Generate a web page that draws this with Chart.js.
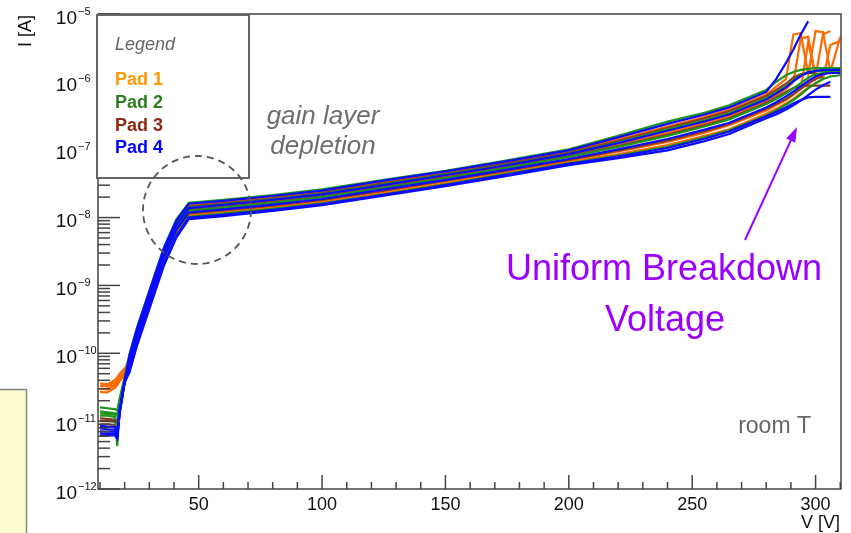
<!DOCTYPE html>
<html>
<head>
<meta charset="utf-8">
<title>IV curves</title>
<script src="https://cdn.jsdelivr.net/npm/chart.js@4.4.0/dist/chart.umd.min.js"></script>
<style>
  html, body { margin: 0; padding: 0; background: #fff; }
  #wrap { position: relative; width: 851px; height: 533px; }
</style>
</head>
<body>
<div id="wrap"><canvas id="ivChart"></canvas></div>
<script>
// bias voltage grid (V), shared by every curve
const voltages = [10, 13, 16, 17, 18, 20, 22, 25, 30, 36, 41, 46, 60,
                  80, 100, 125, 150, 175, 200, 220, 240, 255, 265, 280,
                  284, 288, 291, 294, 297, 300, 303, 306, 310];

// leakage current (A) per curve; null = curve already stopped
const pad1Currents = [ // orange
  [3.3e-11, 3.25e-11, 3.7e-11, 4.0e-11, 4.6e-11, 5.6e-11, 9.0e-11, 2.2e-10, 7.7e-10, 3.4e-9, 8.7e-9, 1.5e-8, 1.68e-8,
   1.98e-8, 2.4e-8, 3.3e-8, 4.6e-8, 6.5e-8, 9.4e-8, 1.42e-7, 2.2e-7, 3.06e-7, 3.9e-7, 6.5e-7,
   8.5e-7, 1.1e-6, 5.0e-6, 5.2e-6, 1.3e-6, 5.6e-6, 5.4e-6, 1.4e-6, 4.6e-6],
  [3.0e-11, 2.95e-11, 3.4e-11, 3.7e-11, 4.2e-11, 5.2e-11, 7.8e-11, 1.9e-10, 6.7e-10, 3.0e-9, 7.5e-9, 1.33e-8, 1.48e-8,
   1.75e-8, 2.1e-8, 2.9e-8, 4.0e-8, 5.7e-8, 8.3e-8, 1.19e-7, 1.78e-7, 2.45e-7, 3.1e-7, 5.2e-7,
   6.3e-7, 7.8e-7, 1.0e-6, 4.4e-6, 4.6e-6, 1.2e-6, 5.0e-6, 5.6e-6, null],
  [2.7e-11, 2.65e-11, 3.1e-11, 3.4e-11, 3.9e-11, 4.8e-11, 6.4e-11, 1.57e-10, 5.5e-10, 2.45e-9, 6.2e-9, 1.12e-8, 1.25e-8,
   1.47e-8, 1.78e-8, 2.45e-8, 3.4e-8, 4.8e-8, 6.9e-8, 9.4e-8, 1.3e-7, 1.78e-7, 2.3e-7, 3.8e-7,
   4.5e-7, 5.4e-7, 6.5e-7, 8.0e-7, 3.8e-6, 1.2e-6, 1.3e-6, null, null],
  [3.6e-11, 3.5e-11, 4.0e-11, 4.4e-11, 5.0e-11, 6.0e-11, 7.0e-11, 1.48e-10, 5.2e-10, 2.3e-9, 5.8e-9, 1.06e-8, 1.18e-8,
   1.39e-8, 1.68e-8, 2.3e-8, 3.2e-8, 4.5e-8, 6.6e-8, 8.6e-8, 1.17e-7, 1.6e-7, 2.0e-7, 3.4e-7,
   4.0e-7, 4.8e-7, 5.6e-7, 6.8e-7, 8.2e-7, 9.6e-7, 1.1e-6, 3.5e-6, 4.0e-6]
];
const pad2Currents = [ // green
  [1.6e-11, 1.55e-11, 1.5e-11, 1.45e-11, 2.2e-11, 4.4e-11, 9.8e-11, 2.4e-10, 8.3e-10, 3.7e-9, 9.4e-9, 1.65e-8, 1.82e-8,
   2.15e-8, 2.6e-8, 3.6e-8, 4.9e-8, 7.0e-8, 1.01e-7, 1.6e-7, 2.6e-7, 3.5e-7, 4.5e-7, 7.6e-7,
   1.0e-6, 1.25e-6, 1.4e-6, 1.5e-6, 1.55e-6, 1.6e-6, 1.6e-6, 1.6e-6, 1.6e-6],
  [1.4e-11, 1.35e-11, 1.3e-11, 1.26e-11, 2.0e-11, 4.2e-11, 8.4e-11, 2.03e-10, 7.1e-10, 3.2e-9, 8.0e-9, 1.4e-8, 1.57e-8,
   1.85e-8, 2.24e-8, 3.1e-8, 4.3e-8, 6.0e-8, 8.7e-8, 1.29e-7, 2.0e-7, 2.7e-7, 3.45e-7, 5.8e-7,
   7.0e-7, 8.6e-7, 1.05e-6, 1.25e-6, 1.4e-6, 1.45e-6, 1.45e-6, 1.45e-6, 1.45e-6],
  [1.2e-11, 1.2e-11, 1.15e-11, 4.3e-12, 1.6e-11, 4.0e-11, 7.4e-11, 1.8e-10, 6.3e-10, 2.8e-9, 7.1e-9, 1.26e-8, 1.4e-8,
   1.65e-8, 2.0e-8, 2.75e-8, 3.8e-8, 5.4e-8, 7.8e-8, 1.1e-7, 1.6e-7, 2.2e-7, 2.8e-7, 4.7e-7,
   5.6e-7, 6.8e-7, 8.0e-7, 9.6e-7, 1.15e-6, 1.3e-6, 1.35e-6, 1.35e-6, 1.35e-6],
  [1.3e-11, 1.28e-11, 1.25e-11, 1.2e-11, 1.8e-11, 4.1e-11, 5.8e-11, 1.4e-10, 4.9e-10, 2.2e-9, 5.5e-9, 1.03e-8, 1.14e-8,
   1.34e-8, 1.62e-8, 2.2e-8, 3.1e-8, 4.4e-8, 6.3e-8, 8.2e-8, 1.1e-7, 1.52e-7, 1.93e-7, 3.2e-7,
   3.8e-7, 4.6e-7, 5.4e-7, 6.5e-7, 8.0e-7, 9.5e-7, 1.1e-6, 1.2e-6, 1.25e-6]
];
const pad3Currents = [ // brown
  [1.1e-11, 1.08e-11, 1.05e-11, 1.0e-11, 1.7e-11, 4.1e-11, 8.7e-11, 2.1e-10, 7.4e-10, 3.3e-9, 8.3e-9, 1.45e-8, 1.62e-8,
   1.91e-8, 2.3e-8, 3.2e-8, 4.4e-8, 6.3e-8, 9.0e-8, 1.35e-7, 2.1e-7, 2.9e-7, 3.7e-7, 6.2e-7,
   7.6e-7, 9.4e-7, 1.15e-6, 1.3e-6, 1.35e-6, 1.35e-6, null, null, null],
  [1.0e-11, 1.0e-11, 9.8e-12, 9.5e-12, 1.6e-11, 4.0e-11, 7.5e-11, 1.84e-10, 6.4e-10, 2.85e-9, 7.2e-9, 1.29e-8, 1.43e-8,
   1.68e-8, 2.05e-8, 2.8e-8, 3.9e-8, 5.5e-8, 8.0e-8, 1.13e-7, 1.67e-7, 2.3e-7, 2.9e-7, 4.9e-7,
   5.9e-7, 7.1e-7, 8.1e-7, 8.7e-7, 8.8e-7, 8.8e-7, 8.8e-7, 8.8e-7, null],
  [9.0e-12, 9.0e-12, 8.8e-12, 8.0e-12, 1.5e-11, 3.9e-11, 6.7e-11, 1.62e-10, 5.7e-10, 2.5e-9, 6.4e-9, 1.15e-8, 1.28e-8,
   1.5e-8, 1.82e-8, 2.5e-8, 3.5e-8, 4.9e-8, 7.1e-8, 9.7e-8, 1.36e-7, 1.87e-7, 2.4e-7, 4.0e-7,
   4.7e-7, 5.6e-7, 6.6e-7, 7.9e-7, 9.4e-7, 1.1e-6, 1.2e-6, null, null]
];
const pad4Currents = [ // blue
  [8.5e-12, 8.3e-12, 8.2e-12, 7.0e-12, 1.5e-11, 3.9e-11, 9.5e-11, 2.3e-10, 8.1e-10, 3.6e-9, 9.1e-9, 1.6e-8, 1.76e-8,
   2.08e-8, 2.5e-8, 3.5e-8, 4.8e-8, 6.8e-8, 9.8e-8, 1.52e-7, 2.4e-7, 3.3e-7, 4.2e-7, 7.1e-7,
   1.1e-6, 1.9e-6, 3.0e-6, 5.0e-6, 7.8e-6, null, null, null, null],
  [7.8e-12, 7.6e-12, 7.5e-12, 6.5e-12, 1.45e-11, 3.8e-11, 8.1e-11, 2.0e-10, 6.9e-10, 3.1e-9, 7.8e-9, 1.38e-8, 1.54e-8,
   1.82e-8, 2.2e-8, 3.0e-8, 4.2e-8, 5.9e-8, 8.6e-8, 1.25e-7, 1.9e-7, 2.6e-7, 3.3e-7, 5.5e-7,
   6.7e-7, 8.3e-7, 1.02e-6, 1.22e-6, 1.38e-6, 1.45e-6, 1.5e-6, 1.5e-6, 1.5e-6],
  [7.1e-12, 7.0e-12, 7.0e-12, 5.8e-12, 1.4e-11, 3.8e-11, 7.0e-11, 1.7e-10, 5.9e-10, 2.6e-9, 6.7e-9, 1.19e-8, 1.32e-8,
   1.55e-8, 1.88e-8, 2.6e-8, 3.6e-8, 5.1e-8, 7.3e-8, 1.01e-7, 1.44e-7, 1.98e-7, 2.5e-7, 4.2e-7,
   5.0e-7, 6.1e-7, 7.2e-7, 8.6e-7, 1.03e-6, 1.2e-6, 1.3e-6, 1.35e-6, 1.35e-6],
  [6.2e-12, 6.1e-12, 6.2e-12, 5.5e-12, 1.3e-11, 3.7e-11, 5.6e-11, 1.37e-10, 4.8e-10, 2.1e-9, 5.4e-9, 1.0e-8, 1.1e-8,
   1.3e-8, 1.58e-8, 2.17e-8, 3.0e-8, 4.3e-8, 6.2e-8, 7.9e-8, 1.06e-7, 1.45e-7, 1.85e-7, 3.1e-7,
   3.6e-7, 4.2e-7, 4.8e-7, 5.4e-7, 5.9e-7, 6.0e-7, 6.0e-7, 6.0e-7, null],
  [6.6e-12, 6.5e-12, 6.6e-12, 6.0e-12, 1.35e-11, 3.75e-11, 5.3e-11, 1.3e-10, 4.5e-10, 2.0e-9, 5.1e-9, 9.5e-9, 1.05e-8,
   1.25e-8, 1.52e-8, 2.1e-8, 2.9e-8, 4.1e-8, 5.9e-8, 7.5e-8, 9.8e-8, 1.34e-7, 1.7e-7, 2.9e-7,
   3.3e-7, 3.9e-7, 4.5e-7, 5.3e-7, 6.4e-7, 7.7e-7, 8.9e-7, 1.0e-6, null]
];

const padNames = ['Pad 1', 'Pad 2', 'Pad 3', 'Pad 4'];
const padTextColors = ['#ff9900', '#2e7d1e', '#8b2a12', '#0000ff'];
const padLineColors = ['#ff6a00', '#1b951b', '#8b3b1c', '#0a0aff'];

const xTickValues = [50, 100, 150, 200, 250, 300];
const yTickExps = [-12, -11, -10, -9, -8, -7, -6, -5];

const FONT = "'Liberation Sans', Arial, Helvetica, sans-serif";

function curveData(values) {
  return values.map((v, i) => ({ x: voltages[i], y: v }));
}

// blue goes first so it ends up drawn on top, orange at the bottom
const datasets = [];
[[pad4Currents, 3], [pad2Currents, 1], [pad3Currents, 2], [pad1Currents, 0]].forEach(([curves, p]) => {
  curves.forEach((c) => {
    datasets.push({
      label: padNames[p],
      data: curveData(c),
      borderColor: padLineColors[p],
      borderWidth: 2.2,
      pointRadius: 0,
      tension: 0,
      spanGaps: false,
      fill: false
    });
  });
});

function line(ctx, x1, y1, x2, y2) {
  ctx.beginPath();
  ctx.moveTo(x1, y1);
  ctx.lineTo(x2, y2);
  ctx.stroke();
}

const overlay = {
  id: 'overlay',
  afterDraw(chart) {
    const ctx = chart.ctx;
    const a = chart.chartArea;
    const xs = chart.scales.x, ys = chart.scales.y;
    ctx.save();

    // slide note box peeking in at the left
    ctx.fillStyle = '#fcfccf';
    ctx.fillRect(0, 389, 27, 144);
    ctx.strokeStyle = '#888';
    ctx.lineWidth = 1.5;
    ctx.beginPath();
    ctx.moveTo(0, 389.5); ctx.lineTo(26.5, 389.5); ctx.lineTo(26.5, 533);
    ctx.stroke();

    // frame
    ctx.strokeStyle = '#444';
    ctx.lineWidth = 1.5;
    ctx.strokeRect(a.left, a.top, a.right - a.left, a.bottom - a.top);

    // y ticks (inside, ROOT style)
    yTickExps.forEach((e, i) => {
      const y = ys.getPixelForValue(Math.pow(10, e));
      line(ctx, a.left, y, a.left + 22, y);
      if (i < yTickExps.length - 1) {
        for (let m = 2; m <= 9; m++) {
          const ym = ys.getPixelForValue(m * Math.pow(10, e));
          line(ctx, a.left, ym, a.left + 12, ym);
        }
      }
    });
    // x ticks
    for (let v = 10; v <= 310; v += 10) {
      const x = xs.getPixelForValue(v);
      const len = v % 50 === 0 ? 14 : 7;
      line(ctx, x, a.bottom, x, a.bottom - len);
    }

    // tick labels
    ctx.fillStyle = '#111';
    ctx.textBaseline = 'alphabetic';
    ctx.font = '18px ' + FONT;
    ctx.textAlign = 'center';
    xTickValues.forEach((v) => {
      ctx.fillText(String(v), xs.getPixelForValue(v), 510);
    });
    yTickExps.forEach((e) => {
      const y = ys.getPixelForValue(Math.pow(10, e));
      ctx.font = '19px ' + FONT;
      ctx.textAlign = 'right';
      ctx.fillText('10', 77, y + 9.5);
      ctx.font = '11px ' + FONT;
      ctx.textAlign = 'left';
      ctx.fillText('\u2212' + Math.abs(e), 78, y + 0.5);
    });

    // axis titles
    ctx.font = '18px ' + FONT;
    ctx.textAlign = 'right';
    ctx.fillText('V [V]', 840, 528);
    ctx.save();
    ctx.translate(31, 15);
    ctx.rotate(-Math.PI / 2);
    ctx.fillText('I [A]', 0, 0);
    ctx.restore();

    // legend box
    ctx.fillStyle = '#fff';
    ctx.fillRect(97, 15, 152, 163);
    ctx.strokeStyle = '#666';
    ctx.lineWidth = 2;
    ctx.strokeRect(97, 15, 152, 163);
    ctx.textAlign = 'left';
    ctx.fillStyle = '#666';
    ctx.font = 'italic 18px ' + FONT;
    ctx.fillText('Legend', 115, 50);
    ctx.font = 'bold 18px ' + FONT;
    [85, 108, 131, 153].forEach((by, i) => {
      ctx.fillStyle = padTextColors[i];
      ctx.fillText(padNames[i], 115, by);
    });

    // gain layer annotation
    ctx.strokeStyle = '#555';
    ctx.lineWidth = 1.8;
    ctx.setLineDash([7, 5]);
    ctx.beginPath();
    ctx.arc(197, 210, 54, 0, Math.PI * 2);
    ctx.stroke();
    ctx.setLineDash([]);
    ctx.fillStyle = '#6e6e6e';
    ctx.font = 'italic 26px ' + FONT;
    ctx.textAlign = 'center';
    ctx.fillText('gain layer', 323, 124);
    ctx.fillText('depletion', 323, 154);

    // breakdown annotation
    const purple = '#9b00ff';
    ctx.fillStyle = purple;
    ctx.font = '36px ' + FONT;
    ctx.fillText('Uniform Breakdown', 664, 280);
    ctx.fillText('Voltage', 665, 331);
    const x0 = 745, y0 = 240, x1 = 797, y1 = 127;
    const ang = Math.atan2(y1 - y0, x1 - x0);
    ctx.strokeStyle = purple;
    ctx.lineWidth = 2;
    line(ctx, x0, y0, x1 - 10 * Math.cos(ang), y1 - 10 * Math.sin(ang));
    ctx.beginPath();
    ctx.moveTo(x1, y1);
    ctx.lineTo(x1 - 15 * Math.cos(ang) + 5 * Math.sin(ang), y1 - 15 * Math.sin(ang) - 5 * Math.cos(ang));
    ctx.lineTo(x1 - 15 * Math.cos(ang) - 5 * Math.sin(ang), y1 - 15 * Math.sin(ang) + 5 * Math.cos(ang));
    ctx.closePath();
    ctx.fill();

    // temperature note
    ctx.fillStyle = '#666';
    ctx.font = '23px ' + FONT;
    ctx.textAlign = 'right';
    ctx.fillText('room T', 811, 433);

    ctx.restore();
  }
};

new Chart(document.getElementById('ivChart'), {
  type: 'line',
  data: { datasets: datasets },
  options: {
    responsive: true,
    maintainAspectRatio: false,
    animation: false,
    layout: { padding: { left: 98, right: 10, top: 14, bottom: 44 } },
    scales: {
      x: { type: 'linear', min: 9.2, max: 310.3, display: false },
      y: { type: 'logarithmic', min: 1e-12, max: 1e-5, display: false }
    },
    plugins: {
      legend: { display: false },
      tooltip: { enabled: false }
    }
  },
  plugins: [overlay]
});
</script>
</body>
</html>
